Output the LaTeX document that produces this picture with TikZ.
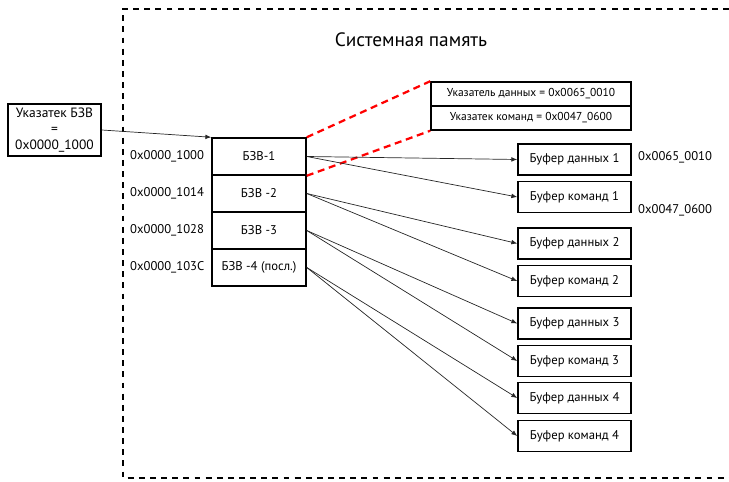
\documentclass[tikz,border=0pt]{standalone}
\usepackage{fontspec}
\setmainfont{PT Sans}
\usetikzlibrary{arrows.meta}

\tikzset{
  box/.style={draw, line width=1.3pt, inner sep=0pt, font=\fontsize{10.8}{13}\selectfont},
  blk/.style={box, minimum width=2.82cm, minimum height=1.11cm},
  buf/.style={box, minimum width=3.39cm, minimum height=0.93cm},
  ptr/.style={box, minimum width=6cm, minimum height=0.72cm, font=\fontsize{9.8}{12}\selectfont},
  addr/.style={anchor=west, inner sep=0pt, font=\fontsize{10.8}{13}\selectfont},
  link/.style={draw=black!85, line width=0.6pt, -{Latex[length=5pt,width=4pt]}},
  zoomline/.style={draw=red, line width=1.9pt, dash pattern=on 6pt off 4pt}
}

\begin{document}
\begin{tikzpicture}[x=0.03cm, y=-0.03cm]
  \useasboundingbox (0,0) rectangle (729,482);

  % Системная память
  \draw[line width=1.9pt, dash pattern=on 5pt off 4.5pt] (740,9) -- (123,9) -- (123,478) -- (740,478);
  \node[font=\fontsize{16.5}{20}\selectfont] (title) at (411,40) {Системная память};

  % Указатель БЗВ
  \node[box, minimum width=2.79cm, minimum height=1.56cm, align=center,
        font=\fontsize{11.5}{13.5}\selectfont] (ptrbzv) at (54.5,130)
    {Указатек БЗВ\\=\\0x0000\_1000};

  % Блоки БЗВ
  \node[blk] (blk1) at (259,156.5) {БЗВ-1};
  \node[blk] (blk2) at (259,193.5) {БЗВ -2};
  \node[blk] (blk3) at (259,230.5) {БЗВ -3};
  \node[blk] (blk4) at (259,267.5) {БЗВ -4 (посл.)};
  \node[addr] (a1) at (130,156.5) {0x0000\_1000};
  \node[addr] (a2) at (130,193.5) {0x0000\_1014};
  \node[addr] (a3) at (130,230.5) {0x0000\_1028};
  \node[addr] (a4) at (130,267.5) {0x0000\_103C};
  \draw[link] (ptrbzv.east) -- (blk1.north west);

  % Содержимое БЗВ-1
  \node[ptr] (uk1) at (531,94) {Указатель данных = 0x0065\_0010};
  \node[ptr] (uk2) at (531,118) {Указатек команд = 0x0047\_0600};
  \draw[zoomline] (blk1.north east) -- (uk1.north west);
  \draw[zoomline] (blk1.south east) -- (uk2.south west);

  % Буферы
  \node[buf] (bd1) at (574.5,159.5) {Буфер данных 1};
  \node[buf] (bk1) at (574.5,197) {Буфер команд 1};
  \node[buf] (bd2) at (574.5,243.5) {Буфер данных 2};
  \node[buf] (bk2) at (574.5,281) {Буфер команд 2};
  \node[buf] (bd3) at (574.5,323.5) {Буфер данных 3};
  \node[buf] (bk3) at (574.5,361) {Буфер команд 3};
  \node[buf] (bd4) at (574.5,398) {Буфер данных 4};
  \node[buf] (bk4) at (574.5,436) {Буфер команд 4};
  \node[addr] (d1addr) at (638,157) {0x0065\_0010};
  \node[addr] (k1addr) at (638,210) {0x0047\_0600};

  % Связи
  \foreach \i in {1,...,4} {
    \draw[link] (blk\i.east) -- (bd\i.west);
    \draw[link] (blk\i.east) -- (bk\i.west);
  }
\end{tikzpicture}
\end{document}
